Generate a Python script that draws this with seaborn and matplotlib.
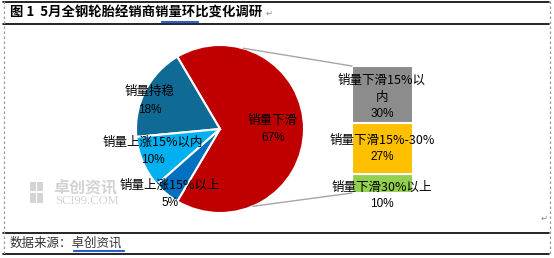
import numpy as np
import matplotlib
matplotlib.use("Agg")
import matplotlib.pyplot as plt
import seaborn as sns

# ---- data ----
pie_labels = ["销量下滑", "销量持稳", "销量上涨15%以内", "销量上涨15%以上"]
pie_values = [67, 18, 10, 5]
pie_colors = ["#C00000", "#0F6B95", "#00B0F0", "#0070C0"]

bar_labels = ["销量下滑30%以上", "销量下滑15%-30%", "销量下滑15%以\n内"]
bar_values = [10, 27, 30]
bar_colors = ["#92D050", "#FFC000", "#8C8C8C"]

title = "图 1  5月全钢轮胎经销商销量环比变化调研"
source = "数据来源：卓创资讯"

sns.set_theme(style="white")
CJK = ["Noto Sans CJK SC", "DejaVu Sans"]
plt.rcParams["font.family"] = CJK

W, H = 554, 258
fig = plt.figure(figsize=(W / 100, H / 100), dpi=100)
fig.patch.set_facecolor("white")

def rect(x0, y0, x1, y1):
    return [x0 / W, 1 - y1 / H, (x1 - x0) / W, (y1 - y0) / H]

# ---- pie ----
cx, cy, R = 220, 129, 84
axp = fig.add_axes(rect(cx - 90, cy - 90, cx + 90, cy + 90))
start = -pie_values[0] / 100 * 360 / 2
axp.pie(pie_values, colors=pie_colors, startangle=start, counterclock=True,
        radius=R, center=(0, 0), frame=True,
        wedgeprops=dict(edgecolor="white", linewidth=1.5))
axp.set_xlim(-90, 90)
axp.set_ylim(-90, 90)
axp.set_aspect("equal")
axp.axis("off")

# ---- stacked bar ----
bx0, bx1, by0, by1 = 352, 413, 66, 193
axb = fig.add_axes(rect(bx0, by0, bx1, by1))
bottom = 0
for v, c in zip(bar_values, bar_colors):
    axb.bar([0], [v], bottom=bottom, width=1.0, color=c, edgecolor="white", linewidth=1.5)
    bottom += v
axb.set_xlim(-0.5, 0.5)
axb.set_ylim(0, sum(bar_values))
axb.axis("off")

# ---- overlay (pixel coordinates) ----
ov = fig.add_axes([0, 0, 1, 1], facecolor="none")
ov.set_xlim(0, W)
ov.set_ylim(H, 0)
ov.axis("off")

# frame lines
ov.plot([3, 549], [1.5, 1.5], color="black", lw=1.2)
ov.plot([3, 549], [23.5, 23.5], color="black", lw=1.2)
ov.plot([3, 549], [232.5, 232.5], color="black", lw=1.2)
ov.plot([3, 549], [253.5, 253.5], color="black", lw=1.2)
ov.plot([3.5, 3.5], [1, 254], color="#9A9A9A", lw=0.9, ls=(0, (2, 2)))
ov.plot([549.5, 549.5], [1, 254], color="#9A9A9A", lw=0.9, ls=(0, (2, 2)))

# title
ov.text(10, 13, title, fontsize=9.6, fontweight="bold", va="center", ha="left",
        family=CJK, color="black")
ov.plot([161, 198], [21, 21], color="#2F5FCB", lw=0.8)
ov.plot([161, 198], [22.3, 22.3], color="#2F5FCB", lw=0.8)
ov.text(266, 13.5, "↵", fontsize=6, va="center", ha="left", color="#888888", family=["DejaVu Sans"])

# source
ov.text(10, 243, source, fontsize=9, va="center", ha="left", color="#333333", family=CJK)
ov.plot([73, 124], [250, 250], color="#2F5FCB", lw=0.8)
ov.plot([73, 124], [251.3, 251.3], color="#2F5FCB", lw=0.8)
ov.text(544, 218, "↵", fontsize=6, va="center", ha="center", color="#888888", family=["DejaVu Sans"])

# watermark
for (x, y, w, h) in [(30, 182, 6, 9), (37, 182, 6, 9), (30, 193, 6, 10), (37, 193, 6, 10)]:
    ov.add_patch(plt.Rectangle((x, y), w, h, color="#D4D4D4", lw=0))
ov.text(85, 187.5, "卓创资讯", fontsize=11.5, fontweight="bold", color="#D3D3D3",
        ha="center", va="center", family=CJK)
ov.text(87, 201.5, "SCI99.COM", fontsize=9, color="#D3D3D3", ha="center", va="center",
        family=["Liberation Serif"])

# connector lines
ang_top, ang_bot = np.deg2rad(74), np.deg2rad(-67)
ov.plot([cx + R * np.cos(ang_top), bx0], [cy - R * np.sin(ang_top), by0], color="#A6A6A6", lw=1)
ov.plot([cx + R * np.cos(ang_bot), bx0], [cy - R * np.sin(ang_bot), by1], color="#A6A6A6", lw=1)

# pie labels
pie_pos = [(273, 120), (150, 92), (153, 142), (170, 185)]
for lab, v, (x, y) in zip(pie_labels, pie_values, pie_pos):
    ov.text(x, y, lab, fontsize=9, ha="center", va="center", color="black", family=CJK)
    ov.text(x, y + 18, f"{v}%", fontsize=8.5, ha="center", va="center", color="black",
            family=["Liberation Sans"])

# bar labels
bar_pos = [(382, 187), (382, 140), (382, 80)]
for lab, v, (x, y) in zip(bar_labels, bar_values, bar_pos):
    lines = lab.split("\n")
    for i, ln in enumerate(lines):
        ov.text(x, y + 17 * i, ln, fontsize=9, ha="center", va="center", color="black", family=CJK)
    ov.text(x, y + 17 * len(lines), f"{v}%", fontsize=8.5, ha="center", va="center",
            color="black", family=["Liberation Sans"])

fig.savefig("out.png", dpi=100, facecolor="white")
